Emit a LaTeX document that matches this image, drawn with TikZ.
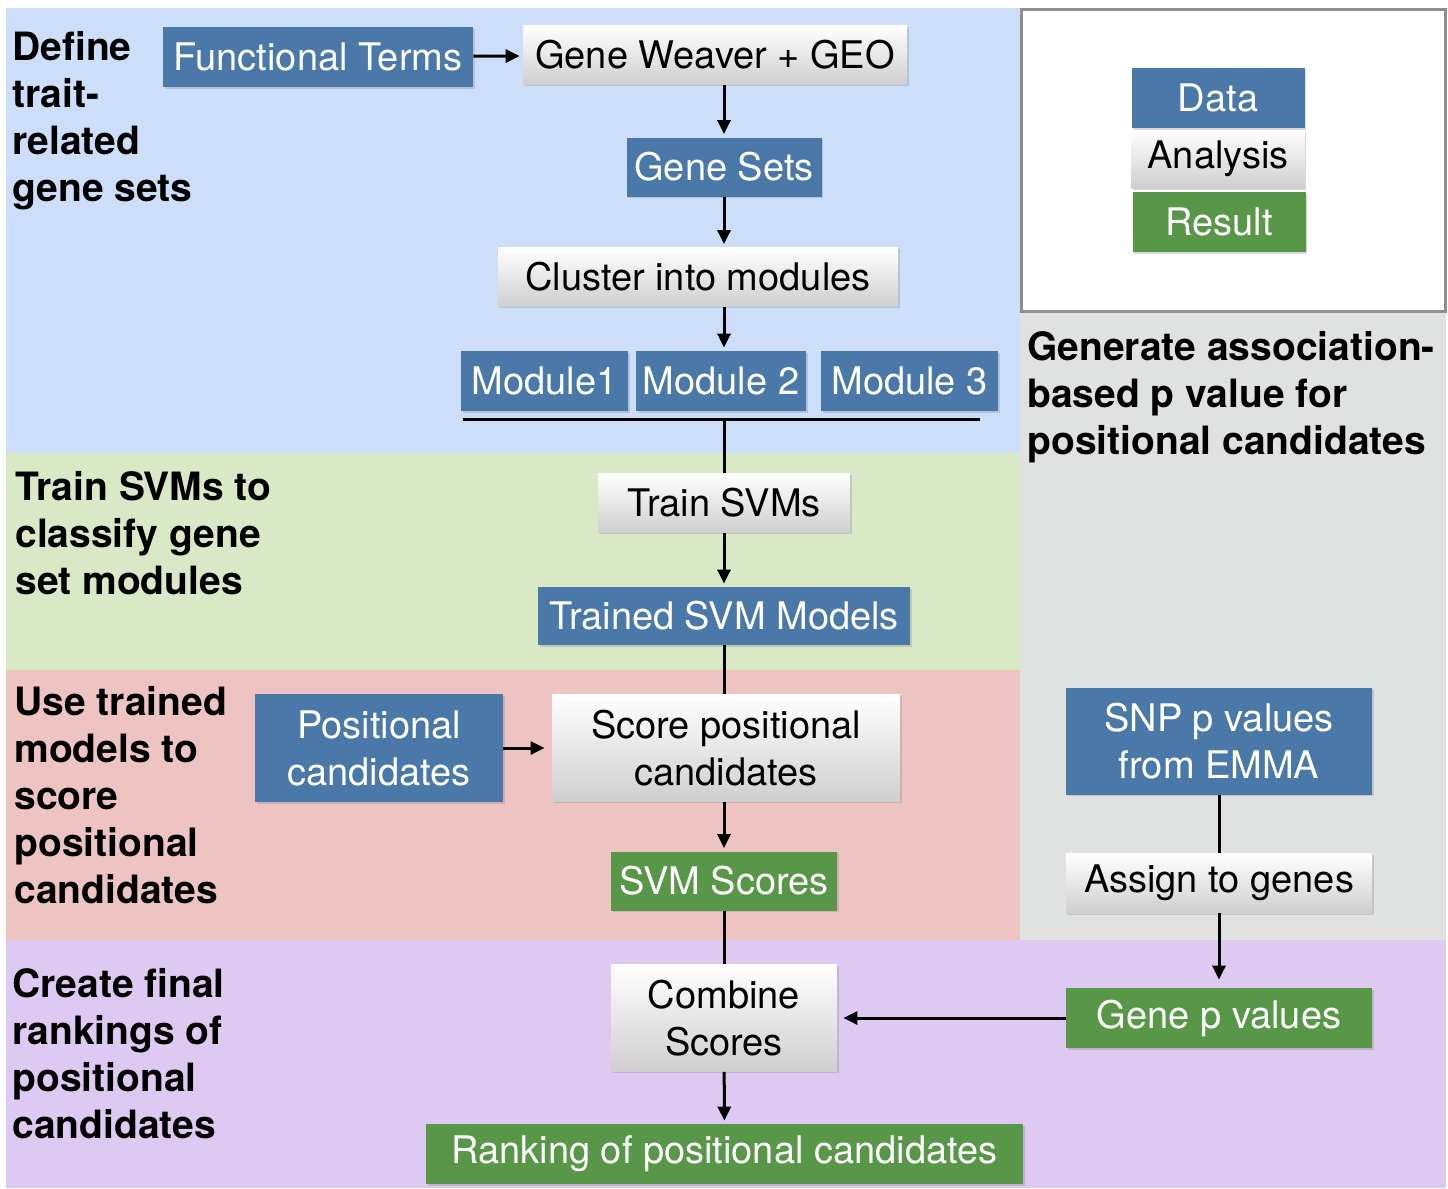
\documentclass[tikz,border=0pt]{standalone}
\usepackage{fontspec}
\setmainfont{TeX Gyre Heros}
\usetikzlibrary{arrows.meta,calc,positioning,shadows}
\definecolor{bgblue}{RGB}{205,222,250}
\definecolor{bggreen}{RGB}{217,233,198}
\definecolor{bgred}{RGB}{238,196,195}
\definecolor{bgpurple}{RGB}{222,201,242}
\definecolor{bggray}{RGB}{224,225,225}
\definecolor{framegray}{RGB}{140,143,146}
\definecolor{datablue}{RGB}{74,120,168}
\definecolor{resgreen}{RGB}{88,150,72}

\tikzset{
  stage/.style={font=\bfseries\fontsize{19.5}{23.5}\selectfont,align=left,anchor=north west,inner sep=0pt},
  basebox/.style={inner sep=0pt,align=center,font=\fontsize{19}{23.5}\selectfont,
    drop shadow={opacity=0.3,shadow xshift=0.8pt,shadow yshift=-0.9pt}},
  databox/.style={basebox,fill=datablue,text=white},
  anabox/.style={basebox,top color=white,bottom color=gray!38,text=black},
  resbox/.style={basebox,fill=resgreen,text=white},
  flow/.style={-{Triangle[length=7pt,width=6.5pt]},line width=1.5pt,shorten >=1.5pt},
  link/.style={line width=1.5pt},
}

\begin{document}
\begin{tikzpicture}[x=0.5pt,y=-0.5pt]
  \useasboundingbox (0,0) rectangle (1448,1189);

  % stage backgrounds
  \fill[bgblue] (6,8) rectangle (1020,453);
  \fill[bggreen] (6,453) rectangle (1020,670);
  \fill[bgred] (6,670) rectangle (1020,940);
  \fill[bggray] (1020,312) rectangle (1446,940);
  \fill[bgpurple] (6,940) rectangle (1446,1188);
  \draw[framegray,line width=1.5pt,fill=white] (1021,9) rectangle (1445,311);

  % stage titles
  \node[stage] (t1) at (12,31) {Define\\trait-\\related\\gene sets};
  \node[stage] (t2) at (15,471) {Train SVMs to\\classify gene\\set modules};
  \node[stage] (t3) at (14,686) {Use trained\\models to\\score\\positional\\candidates};
  \node[stage] (t4) at (12,968) {Create final\\rankings of\\positional\\candidates};
  \node[stage] (t5) at (1027,331) {Generate association-\\based p value for\\positional candidates};

  % legend
  \node[databox,minimum width=86.5pt,minimum height=30pt] (data) at (1218,98) {Data};
  \node[anabox,minimum width=86.5pt,minimum height=29pt] (analysis) at (1218,159) {Analysis};
  \node[resbox,minimum width=86.5pt,minimum height=30pt] (result) at (1219,222) {Result};

  % gene set modules
  \node[databox,minimum width=155pt,minimum height=30pt] (fterms) at (318,57) {Functional Terms};
  \node[anabox,minimum width=192pt,minimum height=29.5pt] (gweaver) at (715,55) {Gene Weaver + GEO};
  \node[databox,minimum width=97.5pt,minimum height=29.5pt] (gsets) at (724,167) {Gene Sets};
  \node[anabox,minimum width=200pt,minimum height=29.5pt] (cluster) at (698,277) {Cluster into modules};
  \node[databox,minimum width=83.5pt,minimum height=30pt] (mod1) at (544.5,381) {Module1};
  \node[databox,minimum width=85pt,minimum height=30pt] (mod2) at (721,381) {Module 2};
  \node[databox,minimum width=88.5pt,minimum height=30pt] (mod3) at (909.5,381) {Module 3};
  \coordinate (barL) at (463,419);
  \coordinate (barR) at (980,419);

  % svm training and scoring
  \node[anabox,minimum width=126pt,minimum height=29.5pt] (trainsvm) at (724,503) {Train SVMs};
  \node[databox,minimum width=186pt,minimum height=29pt] (trained) at (724,616) {Trained SVM Models};
  \node[databox,minimum width=124pt,minimum height=54pt] (poscand) at (379,748) {Positional\\candidates};
  \node[anabox,minimum width=174pt,minimum height=53.5pt] (score) at (726,748) {Score positional\\candidates};
  \node[resbox,minimum width=113pt,minimum height=29.5pt] (svmscores) at (724,881) {SVM Scores};
  \node[anabox,minimum width=113pt,minimum height=53.5pt] (combine) at (724,1018) {Combine\\Scores};
  \node[resbox,minimum width=298.5pt,minimum height=30pt] (ranking) at (724.5,1154) {Ranking of positional candidates};

  % association p values
  \node[databox,minimum width=153pt,minimum height=53.5pt] (snp) at (1219,741) {SNP p values\\from EMMA};
  \node[anabox,minimum width=153pt,minimum height=30pt] (assign) at (1219,883) {Assign to genes};
  \node[resbox,minimum width=153pt,minimum height=30pt] (genep) at (1219,1018) {Gene p values};

  % connectors
  \draw[flow] (fterms) -- (gweaver);
  \draw[flow] (gweaver.south -| gsets) -- (gsets.north);
  \draw[flow] (gsets) -- (gsets |- cluster.north);
  \draw[flow] (cluster.south -| gsets) -- (gsets |- mod2.north);
  \draw[link] (barL) -- (barR);
  \draw[link] (barL -| trainsvm) -- (trainsvm.north);
  \draw[flow] (trainsvm) -- (trained);
  \draw[link] (trained) -- (trained |- score.north);
  \draw[flow,shorten >=3.5pt] (poscand) -- (score);
  \draw[flow] (score.south -| svmscores) -- (svmscores);
  \draw[link] (svmscores) -- (combine);
  \draw[flow] (combine) -- (ranking);
  \draw[link] (snp) -- (assign);
  \draw[flow,shorten >=4pt] (assign) -- (genep);
  \draw[flow,shorten >=3pt] (genep) -- (combine);
\end{tikzpicture}
\end{document}
